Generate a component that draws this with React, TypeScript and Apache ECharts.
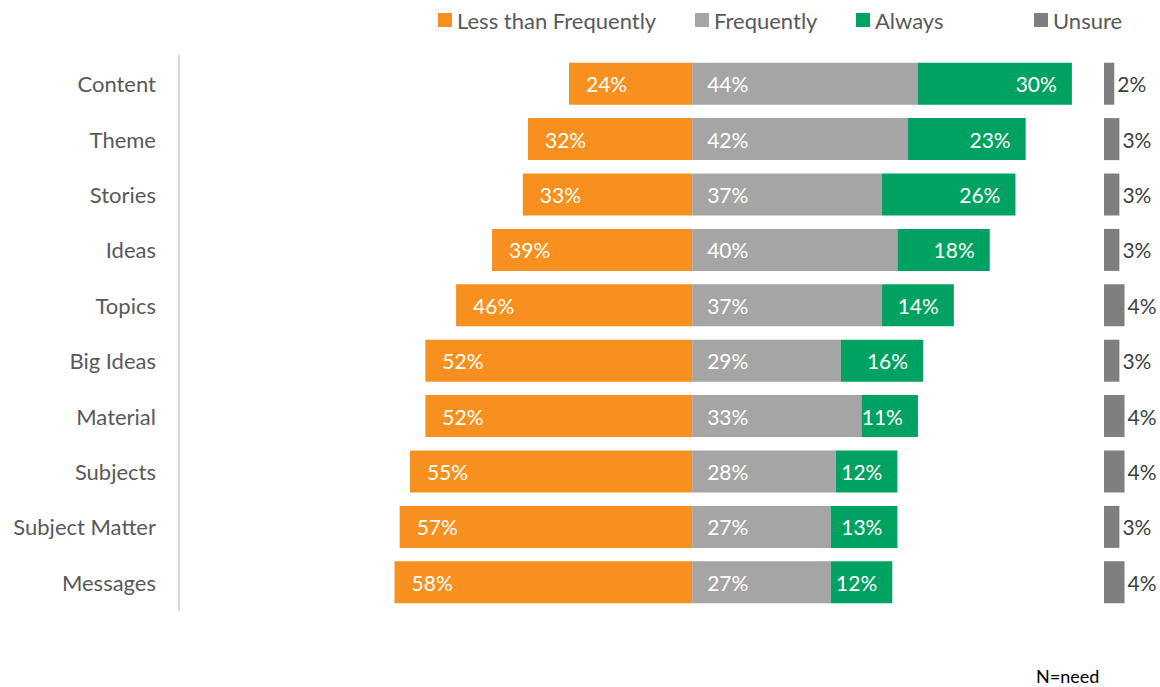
import React, { useEffect, useRef } from "react";
import * as echarts from "echarts";

const categories = [
  "Content",
  "Theme",
  "Stories",
  "Ideas",
  "Topics",
  "Big Ideas",
  "Material",
  "Subjects",
  "Subject Matter",
  "Messages",
];
const lessThanFrequently = [24, 32, 33, 39, 46, 52, 52, 55, 57, 58];
const frequently = [44, 42, 37, 40, 37, 29, 33, 28, 27, 27];
const always = [30, 23, 26, 18, 14, 16, 11, 12, 13, 12];
const unsure = [2, 3, 3, 3, 4, 3, 4, 4, 3, 4];
const seriesNames = ["Less than Frequently", "Frequently", "Always", "Unsure"];

const FONT = "Lato";
const FS = 22;

export default function App() {
  const ref = useRef<HTMLDivElement>(null);
  useEffect(() => {
    if (!ref.current) return;
    const chart = echarts.init(ref.current, undefined, { renderer: "svg" });
    const barLabel = (pos: string, dist: number) => ({
      show: true,
      position: pos,
      distance: dist,
      color: "#ffffff",
      fontSize: 21,
      fontFamily: FONT,
      formatter: (p: any) => Math.abs(p.value) + "%",
    });
    const legendLefts = [438, 695, 856, 1034];
    chart.setOption({
      animation: false,
      backgroundColor: "#ffffff",
      textStyle: { fontFamily: FONT },
      legend: seriesNames.map((n, i) => ({
        data: [n],
        left: legendLefts[i],
        top: 9,
        padding: 0,
        itemWidth: 14,
        itemHeight: 14,
        itemGap: 0,
        icon: "rect",
        textStyle: { fontSize: FS, color: "#595959", fontFamily: FONT },
      })),
      grid: [
        { left: 179, top: 56, width: 975, height: 554 },
        { left: 1104, top: 56, width: 51.3, height: 554 },
      ],
      xAxis: [
        { type: "value", gridIndex: 0, min: -100, max: 90, show: false },
        { type: "value", gridIndex: 1, min: 0, max: 10, show: false },
      ],
      yAxis: [
        {
          type: "category",
          gridIndex: 0,
          data: categories,
          inverse: true,
          axisLine: { show: true, onZero: false, lineStyle: { color: "#d9d9d9", width: 2 } },
          axisTick: { show: false },
          axisLabel: { fontSize: FS, color: "#595959", margin: 23, fontFamily: FONT },
          splitLine: { show: false },
        },
        {
          type: "category",
          gridIndex: 1,
          data: categories,
          inverse: true,
          show: false,
        },
      ],
      series: [
        {
          name: "Less than Frequently",
          type: "bar",
          stack: "main",
          xAxisIndex: 0,
          yAxisIndex: 0,
          barWidth: 42,
          itemStyle: { color: "#F7901E" },
          label: barLabel("insideLeft", 17),
          data: lessThanFrequently.map((v) => -v),
        },
        {
          name: "Frequently",
          type: "bar",
          stack: "main",
          xAxisIndex: 0,
          yAxisIndex: 0,
          barWidth: 42,
          itemStyle: { color: "#A5A5A5" },
          label: barLabel("insideLeft", 15),
          data: frequently,
        },
        {
          name: "Always",
          type: "bar",
          stack: "main",
          xAxisIndex: 0,
          yAxisIndex: 0,
          barWidth: 42,
          itemStyle: { color: "#00A261" },
          label: barLabel("insideRight", 15),
          data: always,
        },
        {
          name: "Unsure",
          type: "bar",
          xAxisIndex: 1,
          yAxisIndex: 1,
          barWidth: 42,
          itemStyle: { color: "#7F7F7F" },
          label: {
            show: true,
            position: "right",
            distance: 3,
            color: "#404040",
            fontSize: 21,
            fontFamily: FONT,
            formatter: (p: any) => p.value + "%",
          },
          data: unsure,
        },
      ],
      graphic: [
        {
          type: "text",
          x: 1036,
          y: 676,
          style: {
            text: "N=need",
            fontSize: 18,
            fill: "#000000",
            fontFamily: FONT,
            verticalAlign: "middle",
          },
        },
      ],
    });
    return () => chart.dispose();
  }, []);
  return (
    <div
      ref={ref}
      style={{ position: "fixed", left: 0, top: 0, width: 1160, height: 687 }}
    />
  );
}
